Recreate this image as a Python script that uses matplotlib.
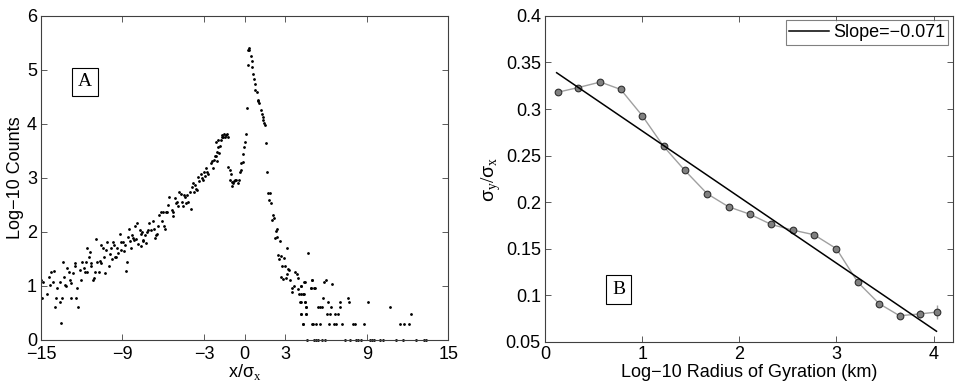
import numpy as np
import matplotlib
matplotlib.use('Agg')
import matplotlib.pyplot as plt
from matplotlib.ticker import FuncFormatter

plt.rcParams['font.family'] = ['Liberation Sans', 'DejaVu Sans']
plt.rcParams['mathtext.fontset'] = 'custom'
plt.rcParams['mathtext.rm'] = 'Liberation Serif'
plt.rcParams['mathtext.it'] = 'Liberation Sans'

# ---- panel A: log10 histogram counts vs x/sigma_x ----
# rising left flank
left_x = [-15.02, -14.85, -14.93, -14.53, -14.43, -14.29, -14.36, -14.12, -14.07, -13.99,
          -13.87, -13.80, -13.62, -13.60, -13.55, -13.45, -13.38, -13.33, -13.26, -13.13,
          -13.06, -12.96, -12.89, -12.81, -12.77, -12.64, -12.52, -12.47, -12.40, -12.32,
          -12.27, -12.15, -12.08, -11.96, -11.83, -11.73, -11.66, -11.59, -11.59, -11.46,
          -11.41, -11.34, -11.29, -11.17, -11.10, -11.00, -10.92, -10.85, -10.75, -10.68,
          -10.61, -10.56, -10.43, -10.36, -10.31, -10.19, -10.11, -10.02, -9.94, -9.87,
          -9.77, -9.70, -9.62, -9.53, -9.45, -9.38, -9.33, -9.21, -9.13, -9.08,
          -8.96, -8.89, -8.84, -8.72, -8.64, -8.59, -8.54, -8.47, -8.40, -8.30,
          -8.22, -8.15, -8.05, -7.98, -7.91, -7.86, -7.73, -7.61, -7.49, -7.37]
left_y = [1.11, 1.07, 0.78, 0.85, 1.16, 1.25, 1.02, 1.08, 1.28, 0.60,
          0.78, 0.96, 1.08, 0.71, 0.31, 0.78, 1.45, 1.17, 1.02, 1.00,
          1.33, 1.25, 1.11, 0.78, 1.05, 1.23, 1.43, 1.36, 0.78, 0.96,
          0.60, 1.30, 1.11, 1.45, 1.33, 1.26, 1.45, 1.25, 1.70, 1.54,
          1.62, 1.42, 1.36, 1.11, 1.14, 1.26, 1.87, 1.45, 1.25, 1.47,
          1.76, 1.43, 1.70, 1.54, 1.23, 1.67, 1.82, 1.36, 1.59, 1.70,
          1.49, 1.82, 1.76, 1.54, 1.53, 1.70, 1.60, 1.97, 1.82, 1.67,
          1.82, 1.65, 1.76, 1.28, 1.45, 1.91, 2.05, 1.84, 1.70, 1.94,
          1.88, 1.85, 2.11, 1.86, 2.17, 1.78, 2.04, 1.97, 1.84, 1.94]

mid_x = [-7.64, -7.59, -7.46, -7.27, -7.17, -7.10, -7.02, -6.92, -6.78, -6.68,
         -6.61, -6.53, -6.43, -6.36, -6.29, -6.19, -6.11, -6.04, -5.94, -5.87,
         -5.80, -5.70, -5.62, -5.55, -5.38, -5.30, -5.26, -5.16, -5.06, -4.96,
         -4.89, -4.81, -4.72, -4.64, -4.57, -4.47, -4.40, -4.32, -4.22, -4.15,
         -4.03, -3.98, -3.91, -3.83, -3.73, -3.66, -3.59, -3.49, -3.41, -3.34,
         -3.24, -3.17, -3.10, -3.00, -2.92, -2.85, -2.75, -2.68, -2.51, -2.43,
         -2.36, -2.26, -2.16, -2.06]
mid_y = [1.73, 2.00, 1.85, 1.79, 2.00, 2.04, 2.16, 2.04, 2.21, 2.06,
         1.88, 1.94, 1.97, 2.10, 2.31, 2.37, 2.21, 2.37, 2.10, 2.06,
         2.37, 2.37, 2.50, 2.65, 2.40, 2.36, 2.29, 2.62, 2.53, 2.56,
         2.48, 2.73, 2.71, 2.56, 2.48, 2.68, 2.65, 2.54, 2.68, 2.56,
         2.74, 2.42, 2.84, 2.91, 2.74, 2.87, 2.79, 2.78, 3.02, 2.95,
         3.07, 2.99, 2.97, 3.11, 3.03, 3.19, 3.10, 3.08, 3.28, 3.32,
         3.18, 3.34, 3.40, 3.48]

# hump, valley and central peak
peak_x = [-2.14, -2.12, -2.07, -1.99, -1.94, -1.90, -1.82, -1.75, -1.70, -1.65,
          -1.58, -1.50, -1.45, -1.40, -1.33, -1.26, -1.21, -1.09, -1.01, -1.09,
          -0.96, -0.91, -0.84, -0.77, -0.72, -0.64, -0.52, -0.42, -0.35, -0.28,
          -0.23, -0.15, -0.10, -0.03, 0.02, 0.07, 0.14, 0.22, 0.26, 0.31,
          0.36, 0.46, 0.51, 0.56, 0.63, 0.71, 0.76, 0.80, 0.88, 0.95,
          1.00, 1.07, 1.20, 1.25, 1.32, 1.37, 1.44, 1.49, 1.57, 1.63]
peak_y = [3.67, 3.40, 3.32, 3.58, 3.70, 3.47, 3.59, 3.70, 3.79, 3.75,
          3.76, 3.81, 3.76, 3.79, 3.82, 3.76, 3.21, 3.14, 3.07, 2.97,
          2.93, 2.85, 2.90, 2.95, 2.97, 2.97, 2.91, 2.97, 3.11, 3.14,
          3.28, 3.30, 3.44, 3.58, 3.67, 3.81, 4.29, 5.09, 5.37, 5.41,
          5.37, 5.25, 5.17, 5.06, 4.92, 4.84, 4.74, 4.62, 4.59, 4.45,
          4.43, 4.38, 4.26, 4.19, 4.12, 4.07, 4.02, 3.98, 3.64, 3.11]

# falling right flank
fall_x = [1.74, 1.84, 1.79, 1.91, 2.11, 2.16, 1.99, 2.35, 2.28, 2.23,
          2.35, 2.60, 3.09, 2.43, 2.67, 2.53, 2.89, 4.69, 2.72, 2.97,
          3.21, 3.29, 3.70, 3.83, 3.16, 2.67, 2.84, 3.04, 3.33, 3.95,
          3.65, 4.15, 3.51, 3.46, 3.90]
fall_y = [2.72, 2.72, 2.59, 2.53, 2.31, 2.25, 2.22, 2.05, 2.02, 1.88,
          1.90, 1.84, 1.71, 1.57, 1.55, 1.50, 1.52, 1.60, 1.37, 1.36,
          1.31, 1.30, 1.25, 1.22, 1.22, 1.17, 1.12, 1.14, 1.11, 1.14,
          1.00, 1.00, 0.96, 0.89, 0.94]

# sparse tail: integer counts per bin
tail_x = [4.93, 6.03, 4.36, 5.84, 6.45, 4.12, 4.86, 5.17, 4.12, 4.36,
          5.79, 7.63, 4.12, 4.44, 6.16, 7.02, 7.68, 9.10, 4.56, 5.42,
          5.54, 5.67, 6.40, 7.06, 10.70, 4.19, 4.51, 6.08, 6.28, 6.65,
          6.89, 12.29, 4.27, 5.00, 5.25, 5.54, 6.23, 6.57, 6.72, 7.21,
          8.00, 8.12, 8.81, 11.43, 11.73, 12.12, 4.61, 5.10, 5.25, 5.42,
          5.67, 5.91, 7.38, 7.80, 8.19, 8.37, 8.61, 9.22, 9.35, 9.52,
          10.00, 10.20, 11.19, 11.68, 12.66, 13.20, 13.35, 4.88, 5.13, 4.02,
          4.32, 4.07, 4.44, 4.56, 4.19, 4.49, 4.32, 5.05, 4.44, 4.93]
tail_counts = [13, 13, 12, 12, 11, 10, 9, 9, 7, 7,
               6, 6, 5, 5, 5, 5, 5, 5, 4, 4,
               4, 4, 4, 4, 4, 3, 3, 3, 3, 3,
               3, 3, 2, 2, 2, 2, 2, 2, 2, 2,
               2, 2, 2, 2, 2, 2, 1, 1, 1, 1,
               1, 1, 1, 1, 1, 1, 1, 1, 1, 1,
               1, 1, 1, 1, 1, 1, 1, 9, 9, 7,
               7, 5, 5, 4, 3, 3, 2, 2, 12, 13]

# ---- panel B ----
radius = [0.13, 0.34, 0.57, 0.78, 1.00, 1.22, 1.44, 1.67, 1.89, 2.11,
          2.33, 2.55, 2.77, 3.00, 3.22, 3.44, 3.65, 3.86, 4.04]
ratio = [0.318, 0.323, 0.329, 0.321, 0.293, 0.260, 0.234, 0.209, 0.195, 0.187,
         0.176, 0.170, 0.165, 0.150, 0.114, 0.091, 0.078, 0.080, 0.082]
ratio_err = [0.002, 0.002, 0.002, 0.002, 0.002, 0.002, 0.002, 0.002, 0.002, 0.002,
             0.002, 0.002, 0.002, 0.002, 0.003, 0.003, 0.004, 0.004, 0.008]
slope = -0.071
intercept = 0.3475
fit_range = [0.12, 4.03]

fig = plt.figure(figsize=(9.68, 3.88), dpi=100)
axA = fig.add_axes([0.0424, 0.124, 0.4206, 0.835])
axB = fig.add_axes([0.563, 0.119, 0.4215, 0.840])

for ax in (axA, axB):
    for s in ax.spines.values():
        s.set_color('#404040')
        s.set_linewidth(0.8)
    ax.tick_params(direction='in', top=True, right=True, length=4, width=0.6,
                   color='#404040', labelsize=13, pad=3)
axA.tick_params(axis='x', pad=4.5)

xs = left_x + mid_x + peak_x + fall_x
ys = left_y + mid_y + peak_y + fall_y
axA.plot(xs, ys, 'k.', markersize=2)
axA.plot(tail_x, np.log10(tail_counts), 'k.', markersize=2, clip_on=False)
axA.set_xlim(-15, 15)
axA.set_ylim(0, 6)
axA.set_xticks([-15, -9, -3, 0, 3, 9, 15])
axA.set_yticks(range(0, 7))
axA.set_ylabel('Log\u221210 Counts', fontsize=13, labelpad=2)
axA.set_xlabel(r'x/$\sigma_{\rm x}$', fontsize=13, labelpad=-1)
axA.text(0.108, 0.796, 'A', transform=axA.transAxes, ha='center', va='center',
         fontsize=14, family='Liberation Serif',
         bbox=dict(boxstyle='square,pad=0.3', fc='white', ec='black', lw=0.8))

axB.errorbar(radius, ratio, yerr=ratio_err, color='#a0a0a0', lw=1, marker='o',
             markersize=4.8, markerfacecolor='#808080', markeredgecolor='#303030',
             markeredgewidth=0.8, ecolor='#a0a0a0', elinewidth=1, capsize=0, zorder=2)
fx = np.array(fit_range)
axB.plot(fx, slope * fx + intercept, color='black', lw=1.1, zorder=3,
         label='Slope=\u22120.071')
axB.set_xlim(0, 4.2)
axB.set_ylim(0.05, 0.4)
axB.set_xticks([0, 1, 2, 3, 4])
axB.set_yticks([0.05, 0.1, 0.15, 0.2, 0.25, 0.3, 0.35, 0.4])
axB.yaxis.set_major_formatter(FuncFormatter(lambda v, p: '%g' % round(v, 2)))
axB.set_xlabel('Log\u221210 Radius of Gyration (km)', fontsize=13, labelpad=1)
axB.set_ylabel(r'$\sigma_{\rm y}/\sigma_{\rm x}$', fontsize=14, labelpad=2)
leg = axB.legend(loc='upper right', fontsize=13, fancybox=False, handlelength=2.2,
                 borderpad=0.2, handletextpad=0.2, borderaxespad=0.25)
leg.get_frame().set_edgecolor('#606060')
leg.get_frame().set_linewidth(0.8)
axB.text(0.181, 0.16, 'B', transform=axB.transAxes, ha='center', va='center',
         fontsize=14, family='Liberation Serif',
         bbox=dict(boxstyle='square,pad=0.3', fc='white', ec='black', lw=0.8))

fig.savefig('out.png', dpi=100)
